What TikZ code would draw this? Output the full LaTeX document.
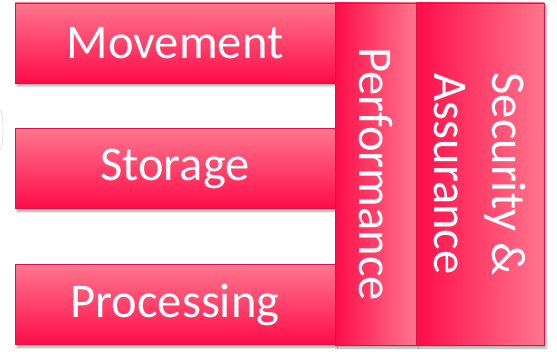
\documentclass[tikz,border=0pt]{standalone}
\usepackage{fontspec}
\setmainfont{Carlito}
\usetikzlibrary{shadows.blur}
\definecolor{barlight}{RGB}{255,118,142}
\definecolor{bardark}{RGB}{255,12,72}
\definecolor{barline}{RGB}{215,20,72}
\tikzset{
  bigtext/.style={text=white, font=\fontsize{48.5}{58}\selectfont},
  bar/.style={draw=barline, line width=0.8pt, rectangle, inner sep=0pt, bigtext,
    blur shadow={shadow xshift=2pt, shadow yshift=-3pt, shadow blur steps=6, shadow opacity=35}},
  hbar/.style={bar, top color=barlight, bottom color=bardark, minimum width=320pt, minimum height=80pt},
  vbar/.style={bar, left color=bardark, right color=barlight, minimum height=342pt},
}
\begin{document}
\begin{tikzpicture}[x=1pt,y=-1pt]
\useasboundingbox (0,0) rectangle (557,352);
\draw[black!12, line width=0.8pt] (0.5,150) arc[start angle=80, end angle=-80, x radius=3, y radius=20.3] coordinate (arcend);
\node[hbar] (mov) at (175,43) {Movement};
\node[hbar] (sto) at (175,168.5) {Storage};
\node[hbar] (pro) at (175,304.5) {Processing};
\node[vbar, minimum width=81pt] (perf) at (375.5,174) {};
\node[bigtext, rotate=-90] (perft) at (perf.center) {Performance};
\node[vbar, minimum width=128pt] (sec) at (480,174) {};
\node[bigtext, rotate=-90, align=center] (sect) at (sec.center) {Security \&\\Assurance};
\end{tikzpicture}
\end{document}
